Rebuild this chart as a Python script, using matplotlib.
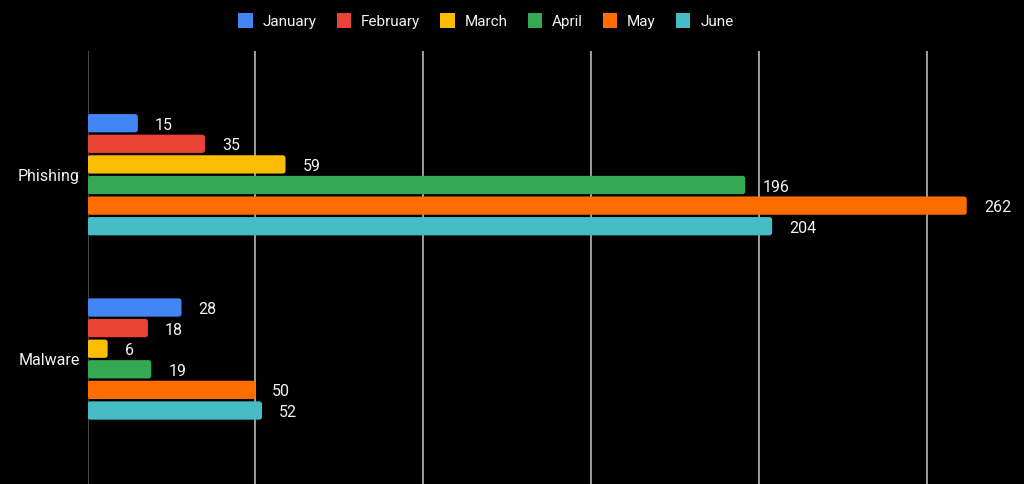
import numpy as np
import matplotlib
matplotlib.use("Agg")
import matplotlib.pyplot as plt
from matplotlib.patches import FancyBboxPatch

plt.rcParams['font.family'] = ['Roboto', 'DejaVu Sans']

categories = ["Phishing", "Malware"]
months = ["January", "February", "March", "April", "May", "June"]
values = {
    "January": [15, 28],
    "February": [35, 18],
    "March": [59, 6],
    "April": [196, 19],
    "May": [262, 50],
    "June": [204, 52],
}
colors = ["#4285F4", "#EA4335", "#FBBC04", "#34A853", "#FF6D01", "#46BDC6"]

W, H = 1024, 484
fig = plt.figure(figsize=(W / 100, H / 100), dpi=100, facecolor="black")
# axes: x from 88px to right edge, y from 51px down to the bottom
ax = fig.add_axes([87.5 / W, 0, 1 - 87.5 / W, (H - 51) / H])
ax.set_facecolor("black")

px_per_unit = 3.356
ax.set_xlim(0, (W - 87.5) / px_per_unit)
group_px = 184.3
top_px = 174.7 - 51
ax.set_ylim(1 + (H - 359) / group_px, -top_px / group_px)

pitch = 20.6 / group_px
bar_h = 18.3 / group_px
n = len(months)
y0 = np.arange(len(categories))

for i, (m, c) in enumerate(zip(months, colors)):
    ys = y0 + (i - (n - 1) / 2) * pitch
    for y, v in zip(ys, values[m]):
        ax.add_patch(FancyBboxPatch((0, y - bar_h / 2), v, bar_h,
                                    boxstyle="round,pad=0,rounding_size=0.8",
                                    mutation_aspect=px_per_unit / group_px,
                                    facecolor=c, edgecolor="none", zorder=3))
        ax.annotate(str(v), (v, y), xytext=(17, -2), textcoords="offset pixels",
                    ha="left", va="center", color="#f2f2f2", fontsize=11.5, zorder=4)

for g in range(50, 300, 50):
    ax.axvline(g, color="#b7b7b7", lw=1.2, zorder=1)
ax.axvline(0, color="#555555", lw=1.2, zorder=2)

ax.set_yticks(y0)
ax.set_yticklabels(categories, color="#f2f2f2", fontsize=11.5)
ax.tick_params(axis="y", length=0, pad=5.5)
ax.set_xticks([])
for s in ax.spines.values():
    s.set_visible(False)

handles = [plt.Rectangle((0, 0), 1, 1, facecolor=c, edgecolor="none") for c in colors]
leg = fig.legend(handles, months, loc="center", bbox_to_anchor=(486 / W, 1 - 21 / H),
                 ncol=6, frameon=False, fontsize=11, handlelength=0.95, handleheight=1.15,
                 handletextpad=0.65, columnspacing=1.3)
for t in leg.get_texts():
    t.set_color("#f2f2f2")

fig.savefig("out.png", dpi=100, facecolor="black")
